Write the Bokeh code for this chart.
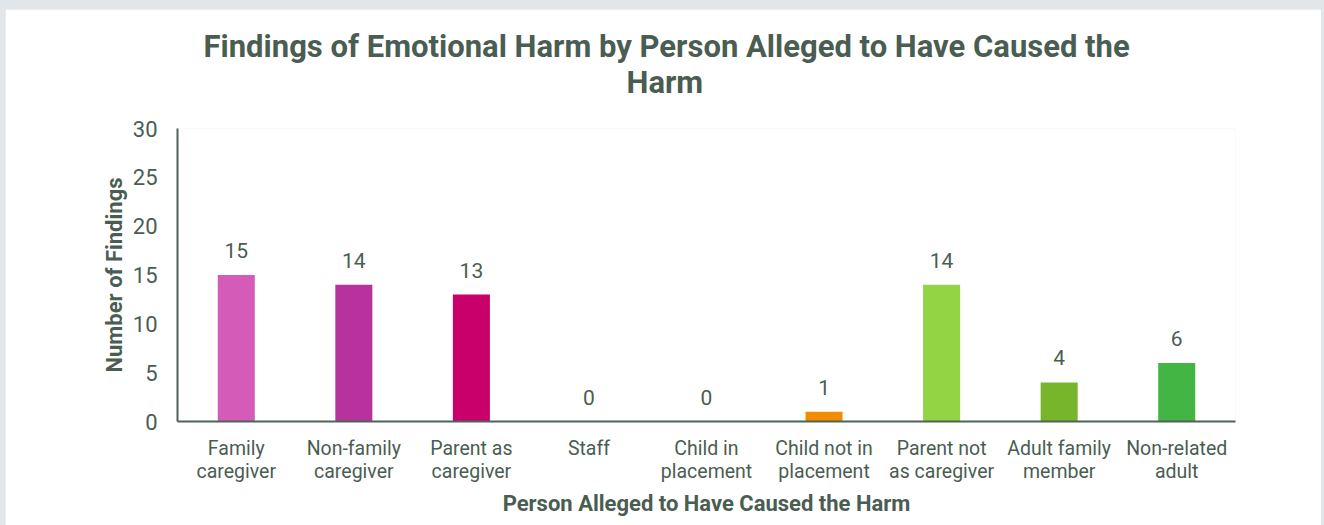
from bokeh.plotting import figure
from bokeh.models import ColumnDataSource, FactorRange, LabelSet, Range1d, Title, Spacer
from bokeh.layouts import row, column
from bokeh.core.properties import value
from bokeh.embed import file_html
from bokeh.resources import INLINE

categories = ["Family\ncaregiver", "Non-family\ncaregiver", "Parent as\ncaregiver", "Staff",
              "Child in\nplacement", "Child not in\nplacement", "Parent not\nas caregiver",
              "Adult family\nmember", "Non-related\nadult"]
findings = [15, 14, 13, 0, 0, 1, 14, 4, 6]
colors = ["#d45bb8", "#b8329e", "#c9006b", "#8e44ad", "#6a1b9a", "#f28c00", "#92d444", "#77b52a", "#42b545"]
labels = [str(v) for v in findings]
title_lines = ["Findings of Emotional Harm by Person Alleged to Have Caused the", "Harm"]

TXT = "#4a5d52"
FONT = "Roboto"

src = ColumnDataSource(dict(cat=categories, val=findings, color=colors, lab=labels))

p = figure(x_range=FactorRange(*categories, range_padding=0), y_range=Range1d(0, 30),
           width=1316, height=516, output_backend="svg", toolbar_location=None,
           min_border_left=172, min_border_right=86, min_border_top=119, min_border_bottom=104)

p.vbar(x="cat", top="val", width=0.315, color="color", source=src, line_color=None)

p.add_layout(LabelSet(x="cat", y="val", text="lab", source=src, text_align="center",
                      text_baseline="bottom", y_offset=17, text_font=value(FONT),
                      text_font_size="21px", text_color=TXT))

tstyle = dict(align="left", text_font=FONT, text_font_size="31px",
              text_font_style="bold", text_color=TXT)

# title: second line added first (closest to the frame), first line above it
try:
    t2 = Title(text=title_lines[1], standoff=56, offset=449, **tstyle)
    t1 = Title(text=title_lines[0], standoff=-62, offset=26, **tstyle)
except Exception:
    t2 = Title(text=title_lines[1], standoff=35, offset=449, **tstyle)
    t1 = Title(text=title_lines[0], standoff=0, offset=26, **tstyle)
p.add_layout(t2, "above")
p.add_layout(t1, "above")

p.xgrid.visible = False
p.ygrid.visible = False
p.outline_line_color = None

for ax in (p.xaxis, p.yaxis):
    ax.axis_line_color = "#4f6357"
    ax.axis_line_width = 2
    ax.major_tick_line_color = None
    ax.minor_tick_line_color = None
    ax.major_label_text_font = FONT
    ax.major_label_text_color = TXT
    ax.axis_label_text_font = FONT
    ax.axis_label_text_font_style = "bold"
    ax.axis_label_text_color = TXT
    ax.axis_label_text_font_size = "22px"

p.yaxis.ticker = [0, 5, 10, 15, 20, 25, 30]
p.yaxis.major_label_text_font_size = "22px"
p.yaxis.major_label_standoff = 14
p.yaxis.axis_label = "Number of Findings"
p.yaxis.axis_label_standoff = 3

p.xaxis.major_label_text_font_size = "19.5px"
p.xaxis.major_label_text_line_height = 1.0
p.xaxis.major_label_standoff = 9
p.xaxis.axis_label = "Person Alleged to Have Caused the Harm"
p.xaxis.axis_label_standoff = 5

layout = row(Spacer(width=5), column(Spacer(height=9), p, spacing=0), spacing=0)

html = file_html(layout, INLINE)
html = html.replace("<head>", "<head><style>body{background:#e3e6e9;}</style>", 1)
open("out.html", "w").write(html)
